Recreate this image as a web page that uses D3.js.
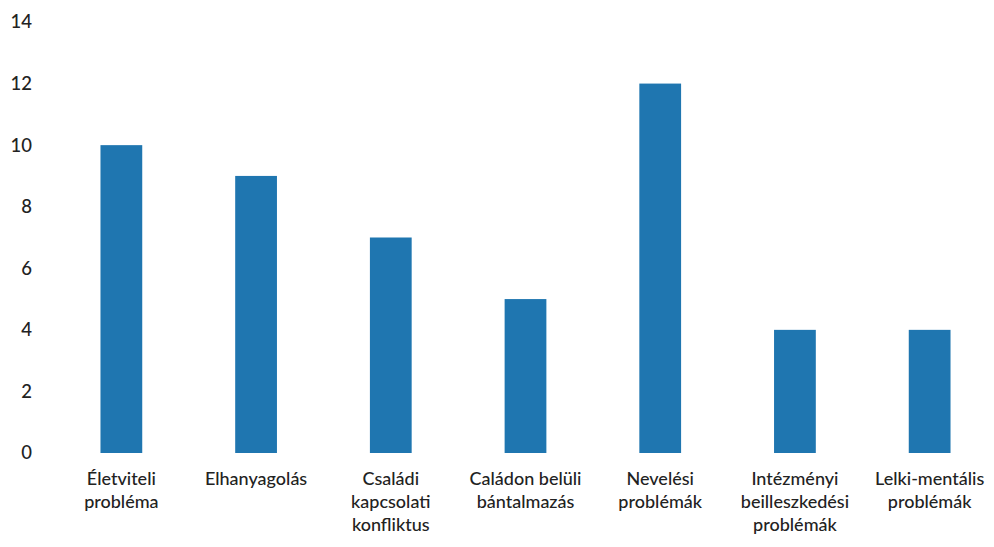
<!DOCTYPE html>
<html>
<head>
<meta charset="utf-8">
<script src="https://cdn.jsdelivr.net/npm/d3@7"></script>
<style>
  body { margin: 0; background: #fff; }
  text { font-family: Lato, "Open Sans", sans-serif; fill: #222; }
</style>
</head>
<body>
<script>
const categories = [
    "Életviteli\nprobléma",
    "Elhanyagolás",
    "Családi\nkapcsolati\nkonfliktus",
    "Caládon belüli\nbántalmazás",
    "Nevelési\nproblémák",
    "Intézményi\nbeilleszkedési\nproblémák",
    "Lelki-mentális\nproblémák"
];
const values = [10, 9, 7, 5, 12, 4, 4];
const yTicks = [0, 2, 4, 6, 8, 10, 12, 14];

const width = 994, height = 547;

const xScale = d3.scaleBand()
    .domain(categories)
    .range([54, 997])
    .paddingInner(0.69)
    .paddingOuter(0.345);

const yScale = d3.scaleLinear()
    .domain([0, 14])
    .range([453, 22]);

const svg = d3.select("body").append("svg")
    .attr("width", width)
    .attr("height", height);

svg.selectAll("rect")
    .data(values)
    .enter().append("rect")
    .attr("x", (d, i) => xScale(categories[i]))
    .attr("y", d => yScale(d))
    .attr("width", xScale.bandwidth())
    .attr("height", d => yScale(0) - yScale(d))
    .attr("fill", "#1f76b0");

// y tick labels, no axis line
const yAxis = svg.append("g")
    .attr("transform", "translate(32,0)")
    .call(d3.axisLeft(yScale).tickValues(yTicks).tickSize(0).tickPadding(0));
yAxis.select(".domain").remove();
yAxis.selectAll("text")
    .attr("font-size", 18.5)
    .attr("font-family", "Lato, sans-serif")
    .attr("font-weight", 500)
    .attr("fill", "#222");

// category labels, explicit line breaks
const labels = svg.selectAll("text.cat")
    .data(categories)
    .enter().append("text")
    .attr("class", "cat")
    .attr("x", d => xScale(d) + xScale.bandwidth() / 2)
    .attr("y", 485)
    .attr("text-anchor", "middle")
    .attr("font-weight", 500)
    .attr("font-size", 18);

labels.selectAll("tspan")
    .data(d => d.split("\n"))
    .enter().append("tspan")
    .attr("x", function() { return this.parentNode.getAttribute("x"); })
    .attr("dy", (d, i) => i === 0 ? 0 : 23)
    .text(d => d);
</script>
</body>
</html>
